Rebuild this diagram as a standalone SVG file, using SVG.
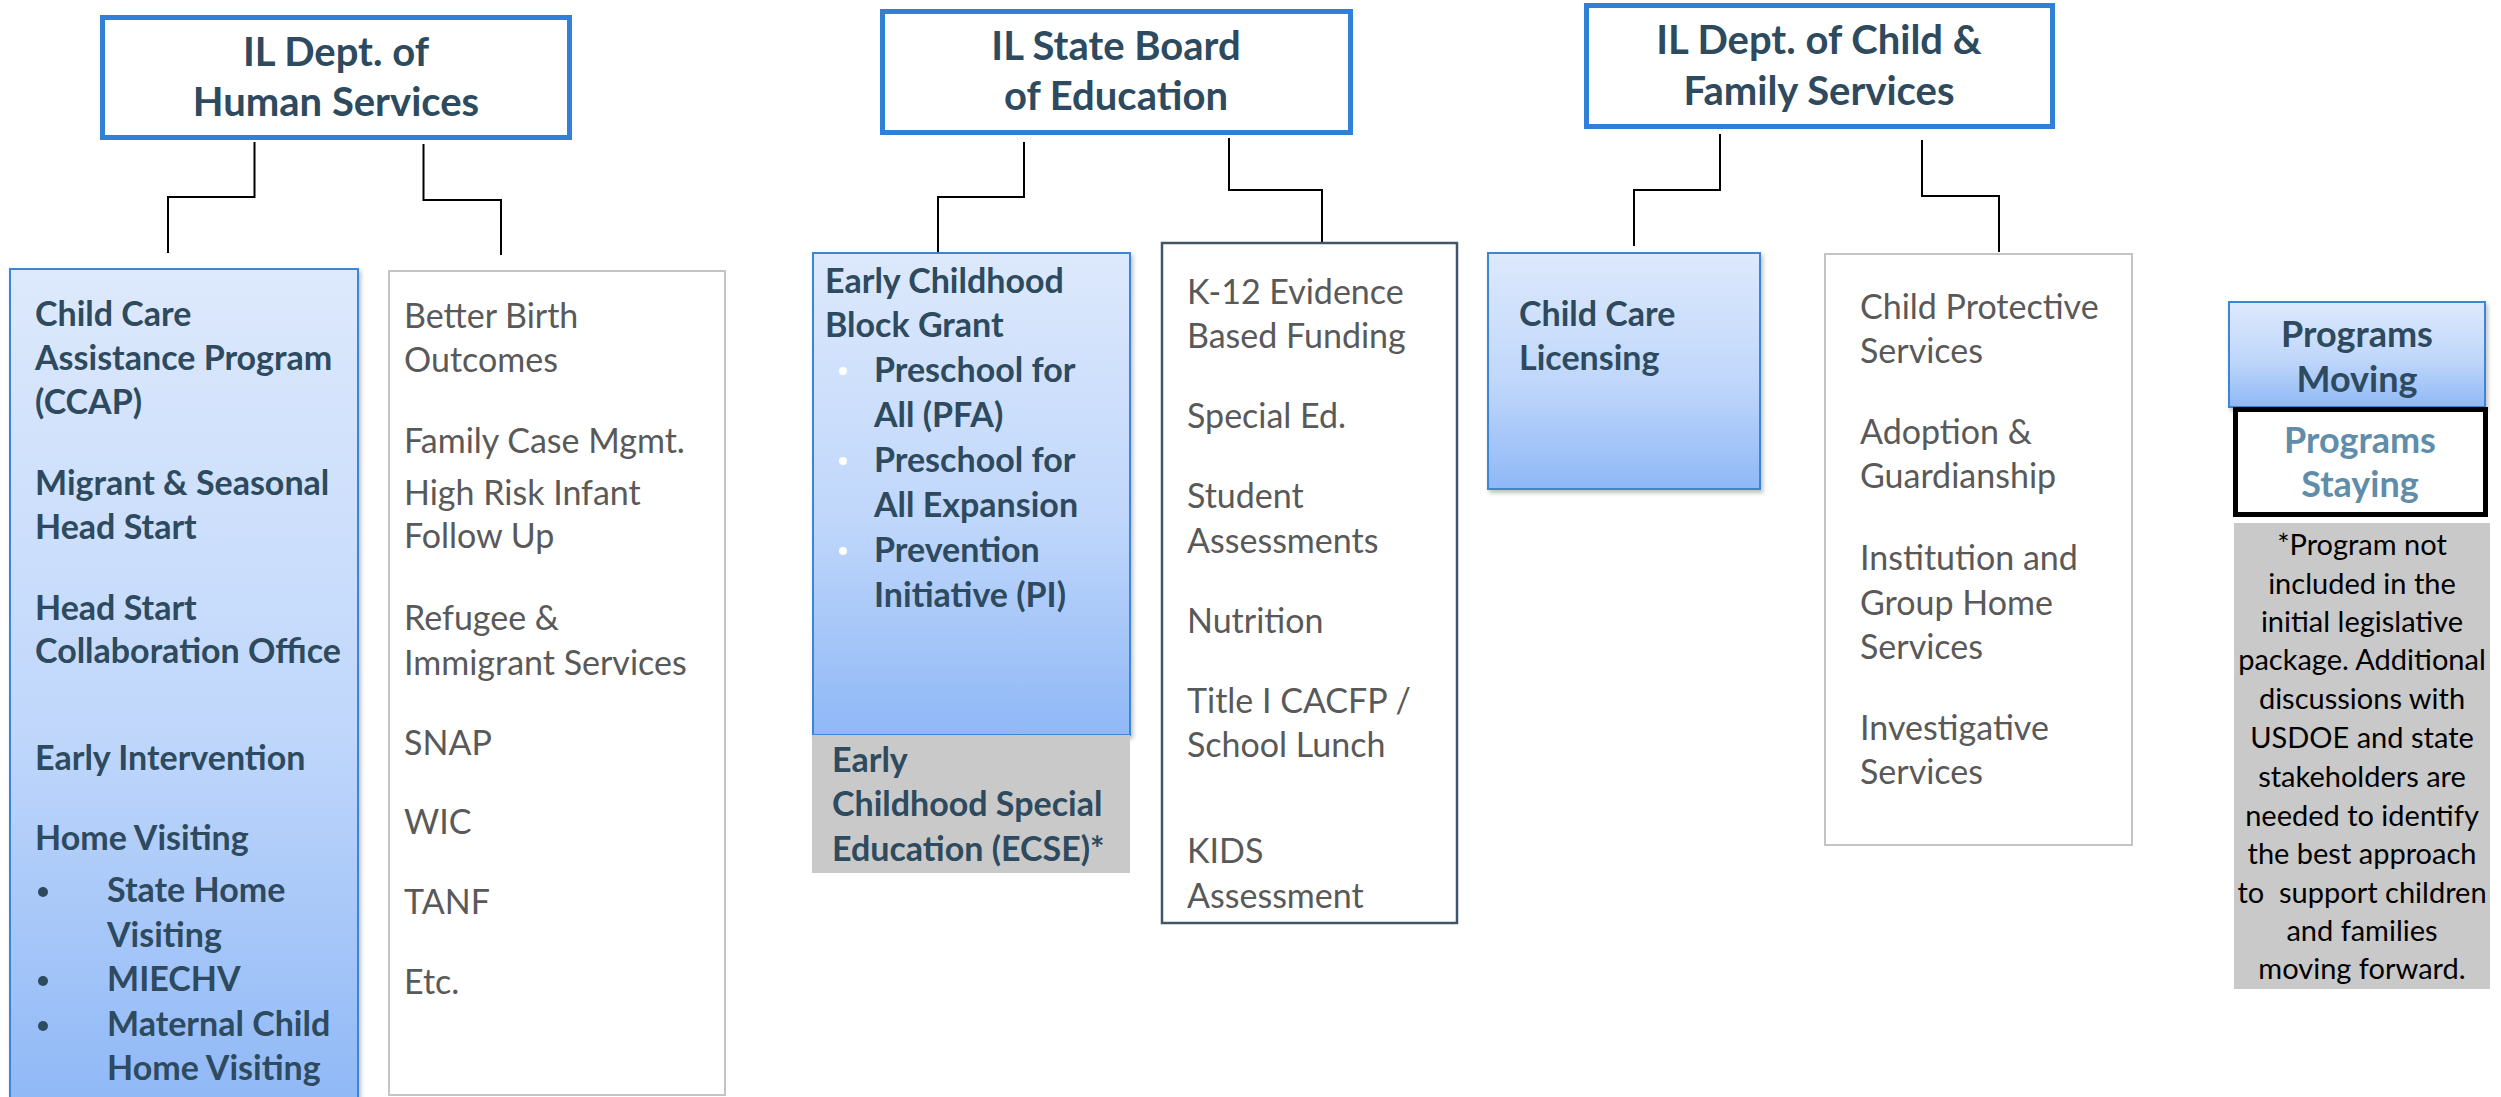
<svg xmlns="http://www.w3.org/2000/svg" width="2501" height="1097" viewBox="0 0 2501 1097">
<style>
  text { font-family: Lato, "Liberation Sans", sans-serif; }
  .hdr { font-size: 40px; font-weight: bold; fill: #2D4A5E; text-anchor: middle; }
  .b { font-size: 34px; font-weight: bold; fill: #2D4A5E; }
  .r { font-size: 34px; fill: #595959; }
  .lg { font-size: 36px; font-weight: bold; text-anchor: middle; }
  .note { font-size: 29px; fill: #000; text-anchor: middle; }
  .hbox { fill: #fff; stroke: #2F80D6; stroke-width: 5; }
  .blue { fill: url(#bg); stroke: #3A86D9; stroke-width: 2; filter: url(#sh); }
  .list { fill: #fff; stroke: #C4C4C4; stroke-width: 2; }
  .conn { fill: none; stroke: #000; stroke-width: 2; }
</style>
<defs>
  <linearGradient id="bg" x1="0" y1="0" x2="0" y2="1">
    <stop offset="0" stop-color="#DDE9FC"/>
    <stop offset="0.55" stop-color="#C0D7FB"/>
    <stop offset="1" stop-color="#8FB8F6"/>
  </linearGradient>
  <filter id="sh" x="-5%" y="-5%" width="115%" height="115%">
    <feDropShadow dx="2" dy="3" stdDeviation="2" flood-color="#000" flood-opacity="0.25"/>
  </filter>
</defs>
<rect width="2501" height="1097" fill="#fff"/>

<g id="connectors">
  <polyline class="conn" points="254.5,142 254.5,197 168,197 168,253"/>
  <polyline class="conn" points="423.5,144 423.5,200 501,200 501,255"/>
  <polyline class="conn" points="1024,142 1024,197 938,197 938,253"/>
  <polyline class="conn" points="1229,138 1229,190 1322,190 1322,243"/>
  <polyline class="conn" points="1720,134 1720,190 1634,190 1634,246"/>
  <polyline class="conn" points="1922,140 1922,196 1999,196 1999,252"/>
</g>

<g id="ildhs">
  <rect class="hbox" x="102.5" y="17.5" width="467" height="120"/>
  <text class="hdr" x="336" y="66">IL Dept. of</text>
  <text class="hdr" x="336" y="116">Human Services</text>
</g>
<g id="isbe">
  <rect class="hbox" x="882.5" y="11.5" width="468" height="121"/>
  <text class="hdr" x="1116" y="60">IL State Board</text>
  <text class="hdr" x="1116" y="110">of Education</text>
</g>
<g id="dcfs">
  <rect class="hbox" x="1586.5" y="5.5" width="466" height="121"/>
  <text class="hdr" x="1819" y="54">IL Dept. of Child &amp;</text>
  <text class="hdr" x="1819" y="105">Family Services</text>
</g>

<g id="ccap">
  <rect class="blue" x="10" y="269" width="348" height="840"/>
  <text class="b" x="35" y="326">Child Care</text>
  <text class="b" x="35" y="370">Assistance Program</text>
  <text class="b" x="35" y="414">(CCAP)</text>
  <text class="b" x="35" y="495">Migrant &amp; Seasonal</text>
  <text class="b" x="35" y="539">Head Start</text>
  <text class="b" x="35" y="620">Head Start</text>
  <text class="b" x="35" y="663">Collaboration Office</text>
  <text class="b" x="35" y="770">Early Intervention</text>
  <text class="b" x="35" y="850">Home Visiting</text>
  <circle cx="43" cy="892" r="5" fill="#2D4A5E"/>
  <text class="b" x="107" y="902">State Home</text>
  <text class="b" x="107" y="947">Visiting</text>
  <circle cx="43" cy="981" r="5" fill="#2D4A5E"/>
  <text class="b" x="107" y="991">MIECHV</text>
  <circle cx="43" cy="1026" r="5" fill="#2D4A5E"/>
  <text class="b" x="107" y="1036">Maternal Child</text>
  <text class="b" x="107" y="1080">Home Visiting</text>
</g>

<g id="dhs-staying">
  <rect class="list" x="389" y="271" width="336" height="824"/>
  <text class="r" x="404" y="328">Better Birth</text>
  <text class="r" x="404" y="372">Outcomes</text>
  <text class="r" x="404" y="453">Family Case Mgmt.</text>
  <text class="r" x="404" y="505">High Risk Infant</text>
  <text class="r" x="404" y="548">Follow Up</text>
  <text class="r" x="404" y="630">Refugee &amp;</text>
  <text class="r" x="404" y="675">Immigrant Services</text>
  <text class="r" x="404" y="755">SNAP</text>
  <text class="r" x="404" y="834">WIC</text>
  <text class="r" x="404" y="914">TANF</text>
  <text class="r" x="404" y="994">Etc.</text>
</g>

<g id="ecbg">
  <rect class="blue" x="813" y="253" width="317" height="482"/>
  <text class="b" x="825" y="293">Early Childhood</text>
  <text class="b" x="825" y="337">Block Grant</text>
  <circle cx="843" cy="371" r="4" fill="#fff"/>
  <text class="b" x="874" y="382">Preschool for</text>
  <text class="b" x="874" y="427">All (PFA)</text>
  <circle cx="843" cy="461" r="4" fill="#fff"/>
  <text class="b" x="874" y="472">Preschool for</text>
  <text class="b" x="874" y="517">All Expansion</text>
  <circle cx="843" cy="551" r="4" fill="#fff"/>
  <text class="b" x="874" y="562">Prevention</text>
  <text class="b" x="874" y="607">Initiative (PI)</text>
</g>

<g id="ecse">
  <rect x="812" y="735" width="318" height="138" fill="#C9C9C9"/>
  <text class="b" x="832" y="772">Early</text>
  <text class="b" x="832" y="816">Childhood Special</text>
  <text class="b" x="832" y="861">Education (ECSE)*</text>
</g>

<g id="isbe-staying">
  <rect x="1162" y="243" width="295" height="680" fill="#fff" stroke="#3E5667" stroke-width="2.5"/>
  <text class="r" x="1187" y="304">K-12 Evidence</text>
  <text class="r" x="1187" y="348">Based Funding</text>
  <text class="r" x="1187" y="428">Special Ed.</text>
  <text class="r" x="1187" y="508">Student</text>
  <text class="r" x="1187" y="553">Assessments</text>
  <text class="r" x="1187" y="633">Nutrition</text>
  <text class="r" x="1187" y="713">Title I CACFP /</text>
  <text class="r" x="1187" y="757">School Lunch</text>
  <text class="r" x="1187" y="863">KIDS</text>
  <text class="r" x="1187" y="908">Assessment</text>
</g>

<g id="ccl">
  <rect class="blue" x="1488" y="253" width="272" height="236"/>
  <text class="b" x="1519" y="326">Child Care</text>
  <text class="b" x="1519" y="370">Licensing</text>
</g>

<g id="dcfs-staying">
  <rect class="list" x="1825" y="254" width="307" height="591"/>
  <text class="r" x="1860" y="319">Child Protective</text>
  <text class="r" x="1860" y="363">Services</text>
  <text class="r" x="1860" y="444">Adoption &amp;</text>
  <text class="r" x="1860" y="488">Guardianship</text>
  <text class="r" x="1860" y="570">Institution and</text>
  <text class="r" x="1860" y="615">Group Home</text>
  <text class="r" x="1860" y="659">Services</text>
  <text class="r" x="1860" y="740">Investigative</text>
  <text class="r" x="1860" y="784">Services</text>
</g>

<g id="legend-moving">
  <rect class="blue" x="2229" y="302" width="256" height="105"/>
  <text class="lg" x="2357" y="347" fill="#2D4A5E">Programs</text>
  <text class="lg" x="2357" y="392" fill="#2D4A5E">Moving</text>
</g>
<g id="legend-staying">
  <rect x="2235.5" y="409.5" width="250" height="105" fill="#fff" stroke="#000" stroke-width="5"/>
  <text class="lg" x="2360" y="453" fill="#5F8DAA">Programs</text>
  <text class="lg" x="2360" y="497" fill="#5F8DAA">Staying</text>
</g>
<g id="note">
  <rect x="2234" y="523" width="256" height="466" fill="#C9C9C9"/>
  <text class="note" x="2362" y="555">*Program not</text>
  <text class="note" x="2362" y="594">included in the</text>
  <text class="note" x="2362" y="632">initial legislative</text>
  <text class="note" x="2362" y="670">package. Additional</text>
  <text class="note" x="2362" y="709">discussions with</text>
  <text class="note" x="2362" y="748">USDOE and state</text>
  <text class="note" x="2362" y="787">stakeholders are</text>
  <text class="note" x="2362" y="826">needed to identify</text>
  <text class="note" x="2362" y="864">the best approach</text>
  <text class="note" x="2362" y="903" xml:space="preserve">to  support children</text>
  <text class="note" x="2362" y="941">and families</text>
  <text class="note" x="2362" y="979">moving forward.</text>
</g>
</svg>
